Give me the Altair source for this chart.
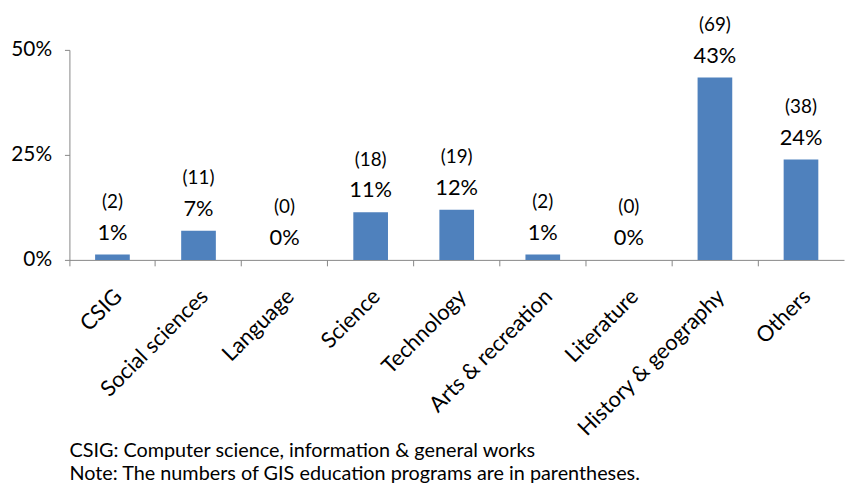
import altair as alt
import pandas as pd

categories = ["CSIG", "Social sciences", "Language", "Science", "Technology",
              "Arts & recreation", "Literature", "History & geography", "Others"]
percents = [1.26, 6.92, 0.0, 11.32, 11.95, 1.26, 0.0, 43.40, 23.90]
counts = [2, 11, 0, 18, 19, 2, 0, 69, 38]
y_ticks = [0, 0.25, 0.5]
footnotes = ["CSIG: Computer science, information & general works",
             "Note: The numbers of GIS education programs are in parentheses."]

df = pd.DataFrame({
    "category": categories,
    "percent": [p / 100 for p in percents],
    "count": counts,
})

FONT = "Lato"
AXIS_GREY = "#868686"
BAR_BLUE = "#4F81BD"

xscale = alt.Scale(paddingInner=0, paddingOuter=0)
yenc = alt.Y("percent:Q",
             scale=alt.Scale(domain=[0, 0.5], nice=False, zero=True),
             axis=alt.Axis(values=y_ticks, format=".0%", title=None, grid=False,
                           domainColor=AXIS_GREY, tickColor=AXIS_GREY, tickSize=5,
                           labelFontSize=21, labelFont=FONT, labelColor="black",
                           labelPadding=13))

base = alt.Chart(df)

bars = base.mark_bar(size=35, color=BAR_BLUE).encode(
    x=alt.X("category:N", sort=categories, scale=xscale,
            axis=alt.Axis(title=None, orient="bottom", labelAngle=-45, labelFontSize=22,
                          labelFont=FONT, labelColor="black", ticks=False, domain=False,
                          labelPadding=33, labelAlign="right", labelBaseline="middle",
                          labelLimit=0, labelOffset=6)),
    y=yenc,
)

pct = base.mark_text(dy=-22, fontSize=22, font=FONT, color="black", baseline="middle").encode(
    x=alt.X("category:N", sort=categories, scale=xscale,
            axis=alt.Axis(title=None, orient="bottom", labels=False, ticks=True,
                          tickSize=6, tickColor=AXIS_GREY, domain=True,
                          domainColor=AXIS_GREY, bandPosition=0)),
    y=yenc,
    text=alt.Text("percent:Q", format=".0%"),
)

cnt = base.transform_calculate(lab="'(' + datum.count + ')'").mark_text(
    dy=-53, fontSize=19, font=FONT, color="black", baseline="middle").encode(
    x=alt.X("category:N", sort=categories, scale=xscale,
            axis=alt.Axis(title=None, orient="bottom", labels=False, ticks=False,
                          domain=False)),
    y=yenc,
    text="lab:N",
)

chart = alt.layer(bars, pct, cnt).resolve_axis(x="independent").properties(
    width=782,
    height=212,
    padding={"left": 62, "top": 40, "right": 2, "bottom": 228},
    autosize=alt.AutoSizeParams(type="none"),
    title=alt.TitleParams(text=footnotes, orient="bottom", anchor="start", frame="group",
                          fontSize=20, font=FONT, fontWeight="normal", color="black",
                          lineHeight=24, offset=1),
).configure_view(stroke=None)

chart.save("out.html", embed_options={"renderer": "svg", "actions": False})
